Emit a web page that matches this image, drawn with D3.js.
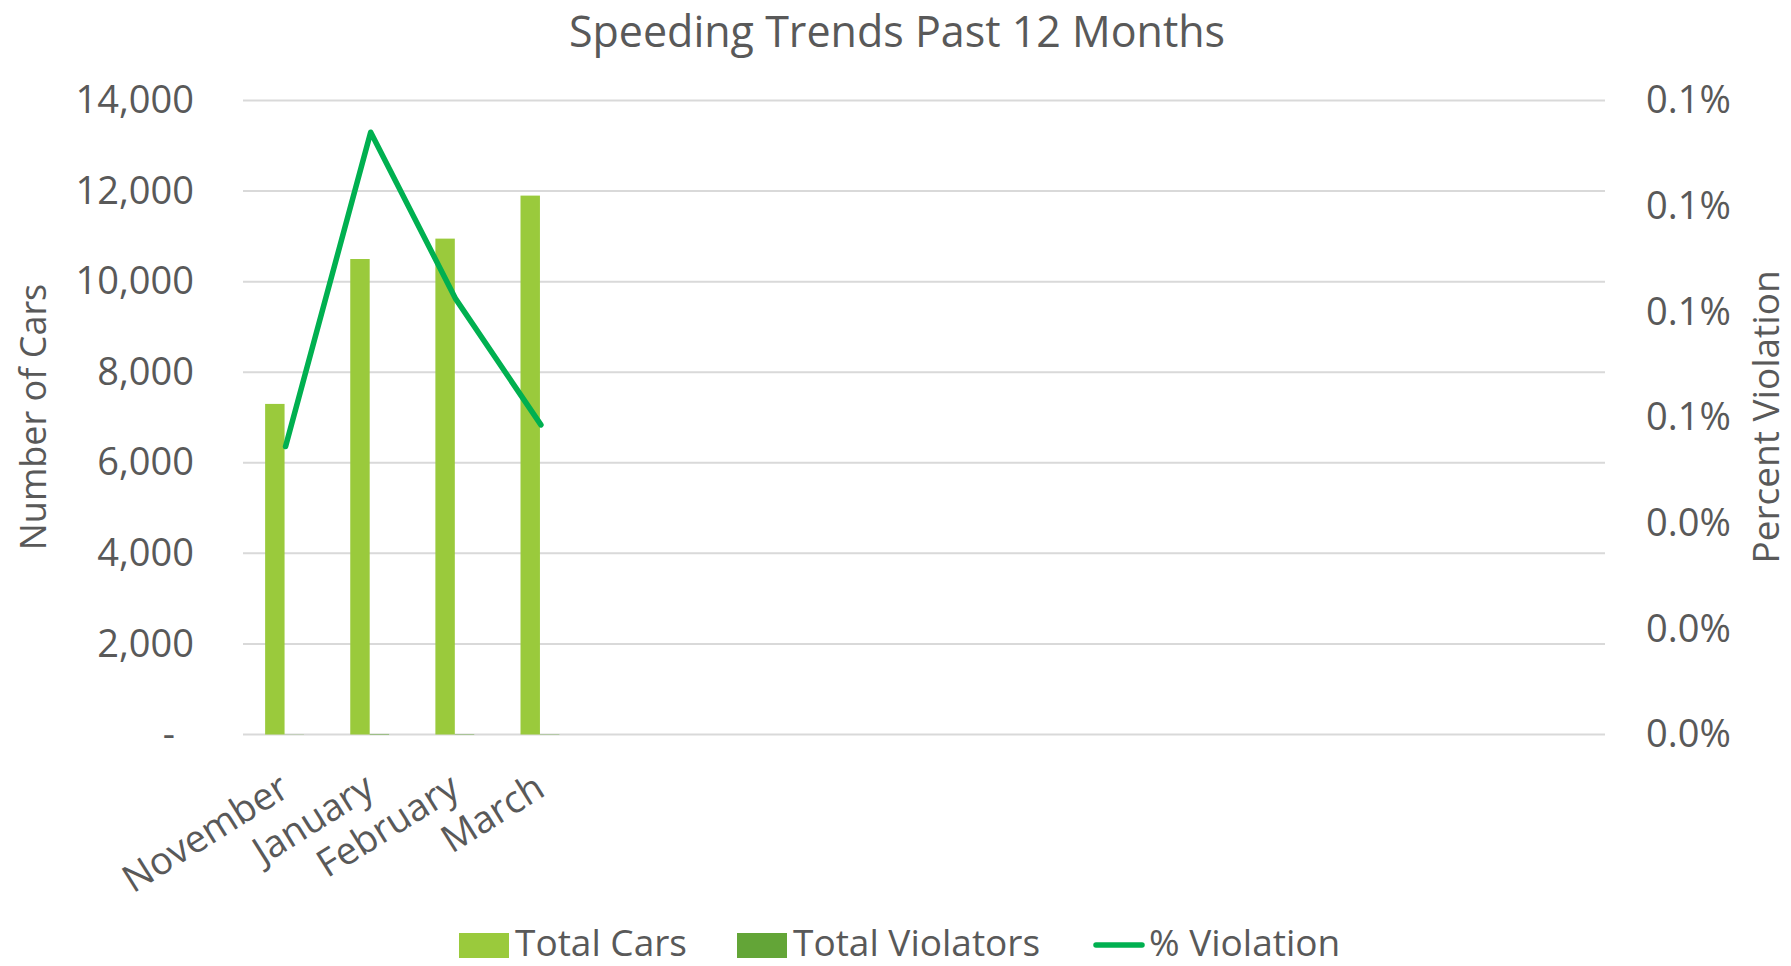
<!DOCTYPE html>
<html>
  <head>
    <title>Speeding Trends Past 12 Months</title>
    <script src="https://d3js.org/d3.v7.min.js"></script>
    <style>
      body { margin: 0; background: #fff; }
      svg text { fill: #595959; }
      .tick text { font-family: "Open Sans", sans-serif; font-size: 38px; }
      .narrow { font-family: "Open Sans", sans-serif; }
    </style>
  </head>
  <body>
    <div id="chart"></div>
    <script>
      // Data
      var months = ["November", "January", "February", "March"];
      var slots = 16;               // the category axis holds 16 slots, only 4 filled
      var totalCars = [7300, 10500, 10950, 11900];
      var totalViolators = [4, 12, 9, 7];
      var pctViolation = [0.000545, 0.00114, 0.000824, 0.000586];
      var leftTicks = [0, 2000, 4000, 6000, 8000, 10000, 12000, 14000];
      var rightTicks = [0, 0.0002, 0.0004, 0.0006, 0.0008, 0.001, 0.0012];

      var width = 1791, height = 966;
      var m = { left: 243, right: 1605, top: 100.5, bottom: 734.5 };

      var svg = d3.select("#chart")
        .append("svg")
        .attr("width", width)
        .attr("height", height);

      var x = d3.scaleBand()
        .domain(d3.range(slots))
        .range([m.left, m.right]);

      var xSub = d3.scaleBand()
        .domain(["cars", "violators"])
        .range([0, x.bandwidth()])
        .paddingOuter(1.19);

      var y = d3.scaleLinear().domain([0, 14000]).range([m.bottom, m.top]);
      var y2 = d3.scaleLinear().domain([0, 0.0012]).range([m.bottom, m.top]);

      // gridlines
      svg.append("g")
        .selectAll("line")
        .data(leftTicks)
        .enter()
        .append("line")
        .attr("x1", m.left)
        .attr("x2", m.right)
        .attr("y1", function(d) { return y(d); })
        .attr("y2", function(d) { return y(d); })
        .attr("stroke", "#d9d9d9")
        .attr("stroke-width", 2);

      // left axis
      var gl = svg.append("g")
        .attr("transform", "translate(" + (m.left - 49) + ",0)")
        .call(d3.axisLeft(y).tickValues(leftTicks).tickSize(0)
          .tickFormat(function(d) { return d === 0 ? "-" : d3.format(",")(d); }));
      gl.select(".domain").remove();
      gl.selectAll(".tick text").attr("x", function(d) { return d === 0 ? -19 : 0; });

      // right axis
      var gr = svg.append("g")
        .attr("transform", "translate(" + (m.right + 41) + ",0)")
        .call(d3.axisRight(y2).tickValues(rightTicks).tickSize(0).tickFormat(d3.format(".1%")));
      gr.select(".domain").remove();
      gr.selectAll(".tick text").attr("x", 0);

      // bars
      var rows = months.map(function(d, i) {
        return { i: i, cars: totalCars[i], violators: totalViolators[i], pct: pctViolation[i] };
      });

      svg.append("g")
        .selectAll("rect.cars")
        .data(rows)
        .enter()
        .append("rect")
        .attr("x", function(d) { return x(d.i) + xSub("cars") - 1; })
        .attr("width", xSub.bandwidth())
        .attr("y", function(d) { return y(d.cars); })
        .attr("height", function(d) { return y(0) - y(d.cars); })
        .attr("fill", "#9aca3c");

      svg.append("g")
        .selectAll("rect.viol")
        .data(rows)
        .enter()
        .append("rect")
        .attr("x", function(d) { return x(d.i) + xSub("violators") - 1; })
        .attr("width", xSub.bandwidth())
        .attr("y", function(d) { return y(d.violators); })
        .attr("height", function(d) { return y(0) - y(d.violators); })
        .attr("fill", "#63a537");

      // line
      var line = d3.line()
        .x(function(d) { return x(d.i) + x.bandwidth() / 2; })
        .y(function(d) { return y2(d.pct); });

      svg.append("path")
        .datum(rows)
        .attr("d", line)
        .attr("fill", "none")
        .attr("stroke", "#00b050")
        .attr("stroke-width", 5.5)
        .attr("stroke-linecap", "round")
        .attr("stroke-linejoin", "round");

      // x labels
      var gx = svg.append("g")
        .attr("transform", "translate(0," + m.bottom + ")")
        .call(d3.axisBottom(x).tickSize(0)
          .tickFormat(function(i) { return months[i] || ""; }));
      gx.select(".domain").remove();
      gx.selectAll(".tick text")
        .attr("text-anchor", "end")
        .attr("y", 0)
        .attr("dy", 0)
        .attr("transform", "translate(6,60) rotate(-32)");

      // titles
      svg.append("text")
        .attr("x", 897)
        .attr("y", 47)
        .attr("text-anchor", "middle")
        .style("font-family", "'Open Sans', sans-serif")
        .style("font-size", "43px")
        .text("Speeding Trends Past 12 Months");

      svg.append("text")
        .attr("class", "narrow")
        .attr("transform", "translate(46,417) rotate(-90)")
        .attr("text-anchor", "middle")
        .style("font-size", "36px")
        .text("Number of Cars");

      svg.append("text")
        .attr("class", "narrow")
        .attr("transform", "translate(1779,417) rotate(-90)")
        .attr("text-anchor", "middle")
        .style("font-size", "37px")
        .text("Percent Violation");

      // legend
      var legend = [
        { name: "Total Cars", color: "#9aca3c", type: "rect", x: 459 },
        { name: "Total Violators", color: "#63a537", type: "rect", x: 737 },
        { name: "% Violation", color: "#00b050", type: "line", x: 1093 }
      ];
      var lg = svg.append("g").attr("transform", "translate(0,945)");
      legend.forEach(function(d) {
        if (d.type === "rect") {
          lg.append("rect").attr("x", d.x).attr("y", -12).attr("width", 50).attr("height", 25).attr("fill", d.color);
        } else {
          lg.append("line").attr("x1", d.x + 3).attr("x2", d.x + 49).attr("y1", 0).attr("y2", 0)
            .attr("stroke", d.color).attr("stroke-width", 5.5).attr("stroke-linecap", "round");
        }
        lg.append("text")
          .attr("class", "narrow")
          .attr("x", d.x + 56)
          .attr("y", 11)
          .style("font-size", "37px")
          .text(d.name);
      });
    </script>
  </body>
</html>
